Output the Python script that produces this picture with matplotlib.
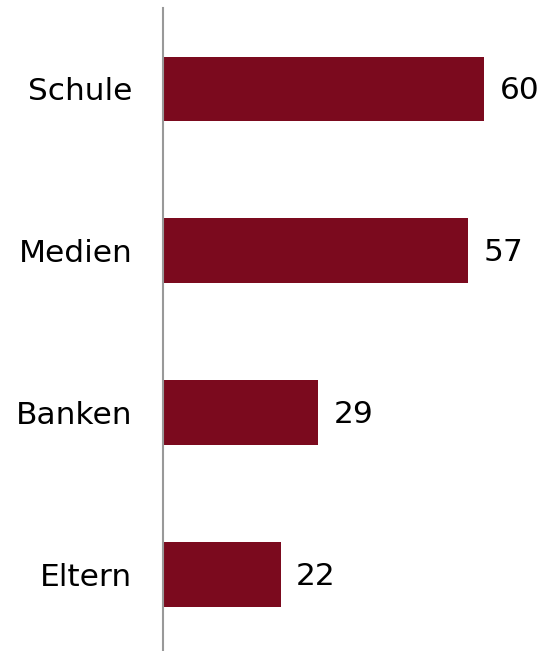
import matplotlib.pyplot as plt

categories = ['Schule', 'Medien', 'Banken', 'Eltern']
values = [60, 57, 29, 22]

bar_color = '#7B0A1E'

fig = plt.figure(figsize=(5.43, 6.51), dpi=100)
ax = fig.add_axes([163 / 543, 0, 1 - 163 / 543, 643 / 651])

ypos = range(len(categories))
ax.barh(ypos, values, height=0.4, color=bar_color)
for y, v in zip(ypos, values):
    ax.annotate(str(v), (v, y), xytext=(11, -1.5), textcoords='offset points',
                va='center', ha='left', fontsize=22.5, color='black')

ax.set_xlim(0, 71)
ax.set_ylim(3.475, -0.5)
ax.set_yticks(list(ypos))
ax.set_yticklabels(categories, fontsize=22.5)
ax.tick_params(axis='y', length=0, pad=22)
for lbl in ax.get_yticklabels():
    lbl.set_y(lbl.get_position()[1])
ax.set_xticks([])
for side in ['top', 'right', 'bottom']:
    ax.spines[side].set_visible(False)
ax.spines['left'].set_color('#999999')
ax.spines['left'].set_linewidth(1.5)

fig.savefig('out.png', dpi=100)
